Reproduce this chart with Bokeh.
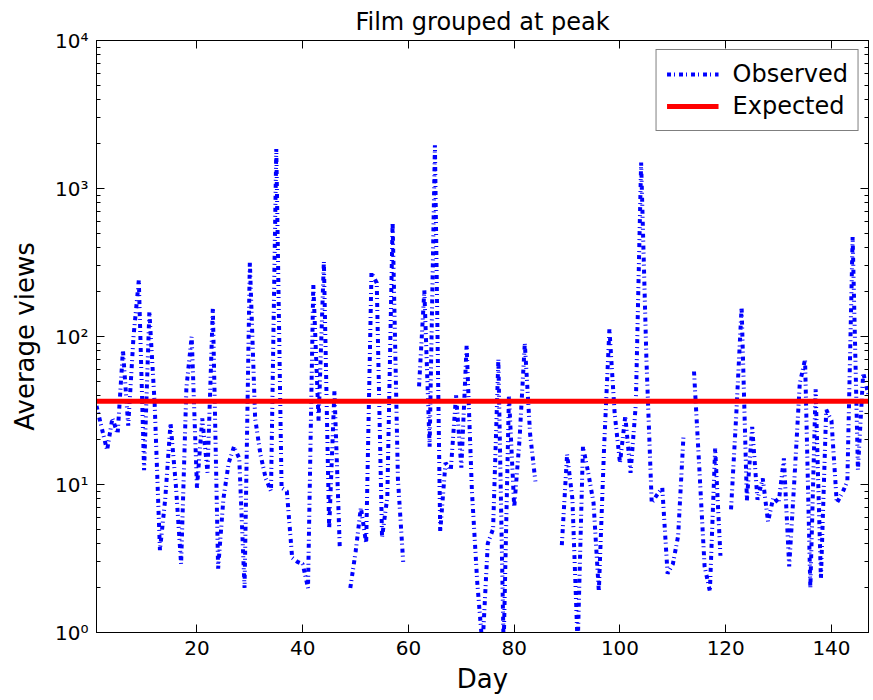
import math
from bokeh.plotting import figure
from bokeh.models import (Range1d, FixedTicker, LinearAxis, LogAxis, Legend,
                          LegendItem, CustomJSTickFormatter)
from bokeh.embed import file_html
from bokeh.resources import INLINE

nan = float("nan")

# ---- data ----
days = list(range(1, 148))
observed = [
    34, 24, 17, 28, 22, 81, 25, 100, 240, 12.5,          # 1-10
    147, 35, 3.6, 8, 26, 10, 2.9, 45, 100, 9.5,          # 11-20
    28, 12, 155, 2.7, 8, 14, 18, 15, 2.0, 320,           # 21-30
    28, 16, 11, 9, 1850, 9.5, 9, 3.2, 3.0, 2.9,          # 31-40
    2.0, 225, 27, 320, 5, 43, 3.8, nan, 2.0, 3.5,        # 41-50
    7, 4, 270, 230, 4.4, 8.2, 590, 11, 3, nan,           # 51-60
    nan, 46, 205, 18, 1960, 4.8, 14, 12.5, 40, 13,       # 61-70
    87, 9, 2.2, 0.8, 4, 5, 70, 0.8, 40, 7,               # 71-80
    20, 90, 22, 10.5, nan, nan, nan, nan, 3.9, 16,       # 81-90
    8, 0.8, 18, 12, 7.5, 1.9, 18, 112, 30, 14,           # 91-100
    29, 12, 35, 1500, 70, 7.5, 8.5, 9.5, 2.5, 2.9,       # 101-110
    4.5, 21, nan, 58, 13, 2.8, 1.9, 17.5, 3.3, nan,      # 111-120
    6.8, 30, 158, 7.8, 24.5, 7.9, 11, 5.6, 8.2, 7.5,     # 121-130
    15, 2.8, 11, 48, 70, 2.0, 44, 2.3, 32, 27,           # 131-140
    7.5, 8.7, 10.5, 470, 12.5, 57, 40,                   # 141-147
]
expected_days = [1, 147]
expected_views = [36.5, 36.5]

x_ticks = [20, 40, 60, 80, 100, 120, 140]
y_ticks = [1, 10, 100, 1000, 10000]
y_tick_labels = ["10\u2070", "10\u00b9", "10\u00b2", "10\u00b3", "10\u2074"]
series_names = ["Observed", "Expected"]
title_text = "Film grouped at peak"
x_label = "Day"
y_label = "Average views"

FONT = "DejaVu Sans"

p = figure(width=873, height=700,
           x_range=Range1d(1, 147), y_range=Range1d(1, 10000),
           y_axis_type="log", output_backend="svg", toolbar_location=None,
           min_border_left=96, min_border_right=5,
           min_border_top=40, min_border_bottom=68,
           title=title_text)

p.background_fill_color = "white"
p.border_fill_color = "white"
p.outline_line_color = "black"
p.outline_line_width = 1
p.xgrid.visible = False
p.ygrid.visible = False

p.title.text_font = FONT
p.title.text_font_size = "24px"
p.title.text_font_style = "normal"
p.title.align = "center"
p.title.text_color = "black"

y_minor = [m * 10 ** e for e in range(4) for m in range(2, 10)]
yticker = FixedTicker(ticks=y_ticks, minor_ticks=y_minor)
xticker = FixedTicker(ticks=x_ticks)

def style_axis(ax):
    ax.axis_line_color = "black"
    ax.major_tick_line_color = "black"
    ax.minor_tick_line_color = "black"
    ax.major_tick_in = 8
    ax.major_tick_out = 0
    ax.minor_tick_in = 4
    ax.minor_tick_out = 0
    ax.major_label_text_font = FONT
    ax.major_label_text_font_size = "20px"
    ax.major_label_text_color = "black"
    ax.major_label_standoff = 8
    ax.axis_label_text_font = FONT
    ax.axis_label_text_font_size = "26px"
    ax.axis_label_text_font_style = "normal"
    ax.axis_label_text_color = "black"

xa = p.xaxis[0]
style_axis(xa)
xa.ticker = xticker
xa.minor_tick_line_color = None
xa.axis_label = x_label
xa.axis_label_standoff = 6

ya = p.yaxis[0]
style_axis(ya)
ya.ticker = yticker
ya.major_label_overrides = {t: l for t, l in zip(y_ticks, y_tick_labels)}
ya.axis_label = y_label
ya.axis_label_standoff = 12

blank = CustomJSTickFormatter(code="return '';")
top_ax = LinearAxis(ticker=xticker, formatter=blank)
style_axis(top_ax)
top_ax.minor_tick_line_color = None
top_ax.major_label_text_font_size = "0px"
top_ax.major_label_standoff = 0
p.add_layout(top_ax, "above")

right_ax = LogAxis(ticker=yticker, formatter=CustomJSTickFormatter(code="return '';"))
style_axis(right_ax)
right_ax.major_label_text_font_size = "0px"
right_ax.major_label_standoff = 0
p.add_layout(right_ax, "right")

r_obs = p.line(days, observed, line_color="#0000ff", line_width=4,
               line_dash="4 3 1 4")
r_exp = p.line(expected_days, expected_views, line_color="#ff0000",
               line_width=5)

legend = Legend(items=[LegendItem(label=series_names[0], renderers=[r_obs]),
                       LegendItem(label=series_names[1], renderers=[r_exp])],
                location="top_right")
legend.label_text_font = FONT
legend.label_text_font_size = "24px"
legend.label_text_color = "black"
legend.border_line_color = "black"
legend.border_line_width = 1
legend.background_fill_color = "white"
legend.background_fill_alpha = 1
legend.glyph_width = 52
legend.glyph_height = 26
legend.label_standoff = 14
legend.padding = 10
legend.spacing = 4
legend.margin = 9
p.add_layout(legend)

open("out.html", "w").write(file_html(p, INLINE))
